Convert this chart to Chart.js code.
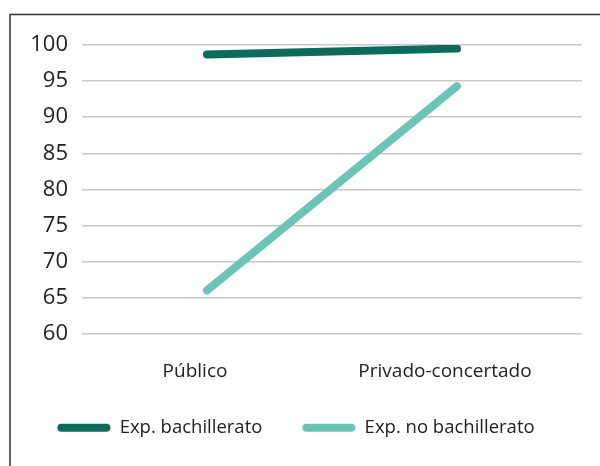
<!DOCTYPE html>
<html>
<head>
<meta charset="utf-8">
<script src="https://cdn.jsdelivr.net/npm/chart.js@4"></script>
<style>
  html, body { margin: 0; padding: 0; background: #fff; overflow: hidden; }
  #wrap { position: relative; width: 600px; height: 466px; }
</style>
</head>
<body>
<div id="wrap"><canvas id="c" width="600" height="466"></canvas></div>
<script>
// Categories and series
const categories = ['Público', 'Privado-concertado'];
const expBachillerato = [98.7, 99.5];
const expNoBachillerato = [66.0, 94.3];
const yTicks = [60, 65, 70, 75, 80, 85, 90, 95, 100];

const DARK = '#0c6b5a';
const LIGHT = '#6cc5b4';
const FONT = '"Open Sans", sans-serif';
const LEGEND_LIFT = 30;
const LEGEND_SHIFT_X = 5;

// Thin frame along the top and left edges of the figure
const framePlugin = {
  id: 'frame',
  afterDraw(chart) {
    const ctx = chart.ctx;
    ctx.save();
    ctx.strokeStyle = '#333';
    ctx.lineWidth = 1.5;
    ctx.beginPath();
    ctx.moveTo(10, 470);
    ctx.lineTo(10, 14.5);
    ctx.lineTo(605, 14.5);
    ctx.stroke();
    ctx.restore();
  }
};

// Keep the wide horizontal gap between legend items while tightening
// the vertical space the legend reserves above itself
const legendSpacing = {
  id: 'legendSpacing',
  beforeLayout(chart) {
    const lg = chart.legend;
    if (lg && !lg._tightened) {
      const fit = lg.fit;
      lg.fit = function () {
        fit.call(this);
        this.height -= LEGEND_LIFT;
      };
      lg._tightened = true;
    }
  },
  afterLayout(chart) {
    const lg = chart.legend;
    if (lg) {
      lg.top -= LEGEND_LIFT;
      lg.height = lg.bottom - lg.top;
      lg.left += LEGEND_SHIFT_X;
      lg.right += LEGEND_SHIFT_X;
    }
  }
};

new Chart(document.getElementById('c'), {
  type: 'line',
  data: {
    labels: categories,
    datasets: [
      {
        label: 'Exp. bachillerato',
        data: expBachillerato,
        borderColor: DARK,
        backgroundColor: DARK,
        borderWidth: 8,
        borderCapStyle: 'round',
        pointRadius: 0,
        tension: 0
      },
      {
        label: 'Exp. no bachillerato',
        data: expNoBachillerato,
        borderColor: LIGHT,
        backgroundColor: LIGHT,
        borderWidth: 8,
        borderCapStyle: 'round',
        pointRadius: 0,
        tension: 0
      }
    ]
  },
  options: {
    responsive: false,
    animation: false,
    layout: { padding: { left: 0, right: 18, top: 45, bottom: 19 } },
    plugins: {
      tooltip: { enabled: false },
      legend: {
        position: 'bottom',
        labels: {
          font: { family: FONT, size: 18.5 },
          color: '#222',
          boxWidth: 53,
          boxHeight: 8,
          useBorderRadius: true,
          borderRadius: 4,
          padding: 40,
          generateLabels(chart) {
            return chart.data.datasets.map((ds, i) => ({
              text: ds.label,
              fillStyle: ds.borderColor,
              strokeStyle: ds.borderColor,
              lineWidth: 0,
              borderRadius: 4,
              hidden: false,
              datasetIndex: i,
              fontColor: '#222'
            }));
          }
        }
      }
    },
    scales: {
      x: {
        offset: true,
        grid: { display: false, drawTicks: false },
        border: { display: false },
        ticks: { font: { family: FONT, size: 19 }, color: '#222', padding: 26, labelOffset: -12 }
      },
      y: {
        min: 60,
        max: 100,
        afterBuildTicks(scale) { scale.ticks = yTicks.map(v => ({ value: v })); },
        afterFit(scale) { scale.width = 82; },
        grid: { color: '#c8c8c8', lineWidth: 1.5, drawTicks: false },
        border: { display: false },
        ticks: { font: { family: FONT, size: 22 }, color: '#222', padding: 14 }
      }
    }
  },
  plugins: [framePlugin, legendSpacing]
});
</script>
</body>
</html>
